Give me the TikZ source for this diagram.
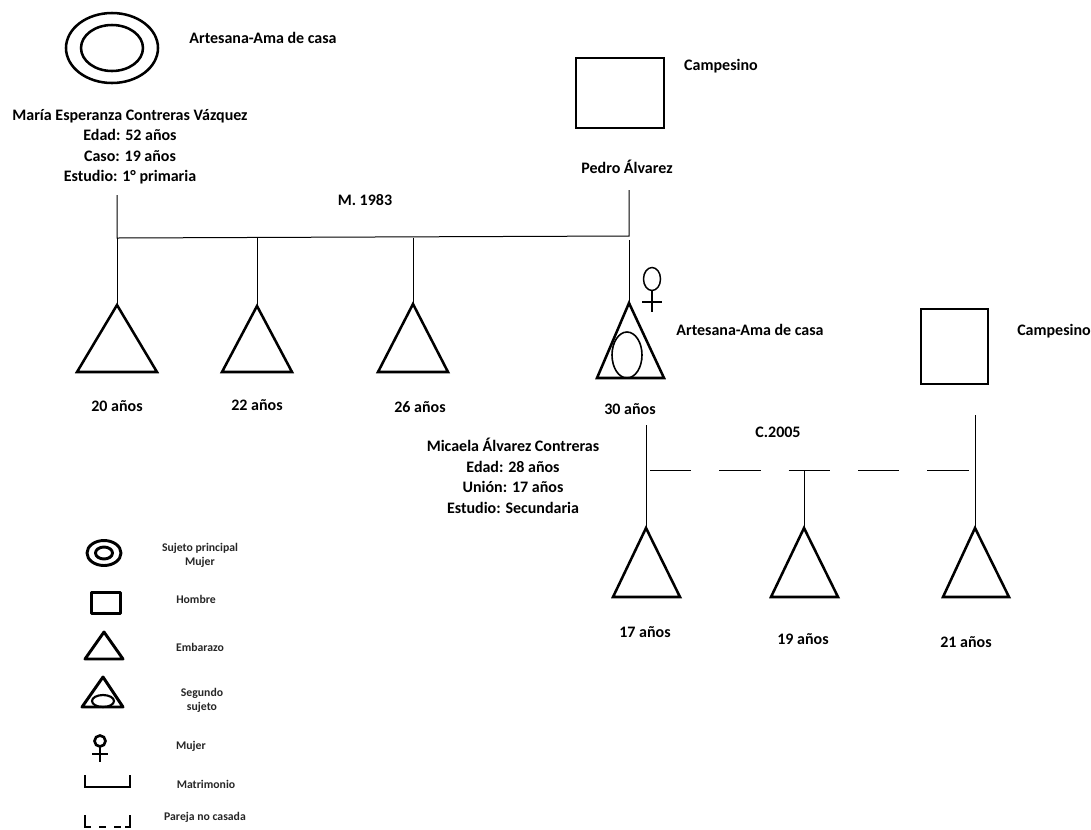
\documentclass[tikz,border=0pt]{standalone}
\usepackage{fontspec}
\setmainfont{Carlito}
\usetikzlibrary{shapes.geometric}
\begin{document}
\begin{tikzpicture}[x=0.75pt,y=-0.75pt,
  lbl/.style={font=\fontsize{12}{15.4}\selectfont\bfseries, inner sep=0pt, align=center},
  leg/.style={font=\fontsize{8.8}{10.5}\selectfont\bfseries, inner sep=0pt, align=center, text=black!85},
  shp/.style={line width=1.9pt, line join=miter},
  conn/.style={line width=0.75pt},
  dconn/.style={line width=0.75pt, dash pattern=on 31pt off 21pt},
  fem/.style={line width=1.1pt},
  legshp/.style={line width=2.2pt, line join=round}
  ]
\useasboundingbox (0,0) rectangle (1091,829);

% ---------- first generation ----------
\coordinate (maria) at (112,48);
\draw[shp] (maria) ellipse [x radius=46, y radius=35];
\draw[shp] (maria) ellipse [x radius=31, y radius=23];
\node[lbl] (mariaocc) at (263,38) {Artesana-Ama de casa};
\node[lbl, anchor=north] (mariainfo) at (130,109) {María Esperanza Contreras Vázquez\\Edad: 52 años\\Caso: 19 años\\Estudio: 1° primaria};

\node[draw, shp, minimum width=66pt, minimum height=52.5pt, inner sep=0pt] (pedro) at (620,93) {};
\node[lbl] (pedroocc) at (721,66) {Campesino};
\node[lbl] (pedroname) at (627,167) {Pedro Álvarez};

\node[lbl] (m1983) at (365,200) {M. 1983};

\coordinate (mL) at (117,195);
\coordinate (mLb) at (117,238);
\coordinate (mR) at (629,190);
\coordinate (mRb) at (629,236);
\draw[conn] (mL) -- (mLb) -- (mRb) -- (mR);

% children
\coordinate (c1) at (117,305);
\coordinate (c2) at (257,306);
\coordinate (c3) at (413,304);
\coordinate (c4) at (629,303);
\draw[conn] (mLb) -- (c1);
\draw[conn] (257,238) coordinate (c2t) -- (c2);
\draw[conn] (413,237.5) coordinate (c3t) -- (c3);
\draw[conn] (629,240) coordinate (c4t) -- (c4);

\draw[shp] (c1) -- (77,372) -- (157,372) -- cycle;
\draw[shp] (c2) -- (222,372) -- (292,372) -- cycle;
\draw[shp] (c3) -- (378,372) -- (448,372) -- cycle;
\draw[shp] (c4) -- (597,378) -- (664,378) -- cycle;
\draw[line width=1.2pt] (627,355) ellipse [x radius=15, y radius=23];

% female symbol
\draw[fem] (652,279) ellipse [x radius=8.5, y radius=11.5];
\draw[fem] (652,290.5) -- (652,312) (642,302) -- (662,302);

\node[lbl] (a20) at (117,406) {20 años};
\node[lbl] (a22) at (257,405) {22 años};
\node[lbl] (a26) at (420,407) {26 años};
\node[lbl] (a30) at (630,409) {30 años};
\node[lbl] (micaocc) at (750,330) {Artesana-Ama de casa};

% ---------- second generation ----------
\node[draw, shp, minimum width=50pt, minimum height=56pt, inner sep=0pt] (esposo) at (954.5,346.5) {};
\node[lbl] (esposoocc) at (1054,331) {Campesino};
\node[lbl, anchor=north] (micainfo) at (513,438) {Micaela Álvarez Contreras\\Edad: 28 años\\Unión: 17 años\\Estudio: Secundaria};
\node[lbl] (c2005) at (778,432) {C.2005};

\coordinate (uL) at (646,425);
\coordinate (uR) at (975,415);
\coordinate (uRb) at (975,470);
\coordinate (uLb) at (650,470);
\coordinate (g1) at (646,528);
\coordinate (g2) at (804,528);
\coordinate (g3) at (975,528);
\draw[conn] (uL) -- (g1);
\draw[conn] (uR) -- (g3);
\draw[dconn] (uLb) -- (uRb);
\draw[conn] (804,470) coordinate (g2t) -- (g2);

\draw[shp] (g1) -- (613,597) -- (680,597) -- cycle;
\draw[shp] (g2) -- (771,597) -- (838,597) -- cycle;
\draw[shp] (g3) -- (943,597) -- (1009,597) -- cycle;

\node[lbl] (a17) at (645,632) {17 años};
\node[lbl] (a19) at (803,639) {19 años};
\node[lbl] (a21) at (966,642) {21 años};

% ---------- legend ----------
\coordinate (l1) at (104,553);
\draw[legshp] (l1) ellipse [x radius=17, y radius=12.5];
\draw[legshp] (l1) ellipse [x radius=8.5, y radius=6];
\node[leg] (t1) at (200,555) {Sujeto principal\\Mujer};

\node[draw, legshp, minimum width=22pt, minimum height=16pt, inner sep=0pt] (l2) at (106,603) {};
\node[leg] (t2) at (196,599) {Hombre};

\draw[legshp] (104,632) coordinate (l3) -- (85,659) -- (123,659) -- cycle;
\node[leg] (t3) at (200,647) {Embarazo};

\draw[legshp] (103,677) coordinate (l4) -- (82,707) -- (123,707) -- cycle;
\draw[line width=1.6pt] (103,701) ellipse [x radius=11, y radius=6];
\node[leg] (t4) at (202,700) {Segundo\\sujeto};

\coordinate (l5) at (100,741);
\draw[line width=2pt] (l5) circle [radius=5.5];
\draw[line width=1.6pt] (100,747) -- (100,762) (92,754) -- (108,754);
\node[leg] (t5) at (191,746) {Mujer};

\draw[line width=1.3pt] (85,775) coordinate (l6) -- (85,787) -- (130,787) -- (130,775);
\node[leg] (t6) at (206,784) {Matrimonio};

\draw[line width=1.3pt] (85,815) coordinate (l7) -- (85,827) -- (91,827);
\draw[line width=1.3pt] (99,827) -- (106,827) (114,827) -- (121,827);
\draw[line width=1.3pt] (125,827) -- (130,827) -- (130,815);
\node[leg] (t7) at (205,817) {Pareja no casada};
\end{tikzpicture}
\end{document}
